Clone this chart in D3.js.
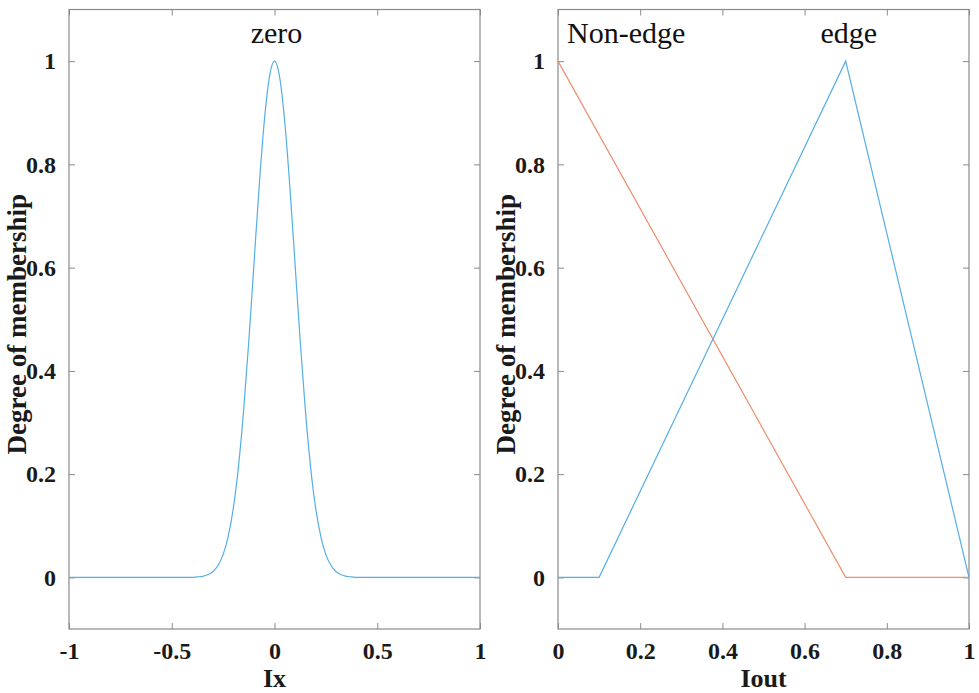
<!DOCTYPE html>
<html>
<head>
<meta charset="utf-8">
<script src="https://cdn.jsdelivr.net/npm/d3@7/dist/d3.min.js"></script>
<style>
  html, body { margin: 0; padding: 0; background: #fff; }
  svg { display: block; }
</style>
</head>
<body>
<svg id="chart" width="979" height="693"></svg>
<script>
// ---------- data ----------
const ixTicks = [-1, -0.5, 0, 0.5, 1];
const ioutTicks = [0, 0.2, 0.4, 0.6, 0.8, 1];
const yTicks = [0, 0.2, 0.4, 0.6, 0.8, 1];

// "zero" membership function
const zeroX = [-1, -0.4, -0.375, -0.35, -0.325, -0.3, -0.275, -0.25, -0.225, -0.2, -0.175, -0.15, -0.125, -0.1, -0.075, -0.05, -0.025, 0,
               0.025, 0.05, 0.075, 0.1, 0.125, 0.15, 0.175, 0.2, 0.225, 0.25, 0.275, 0.3, 0.325, 0.35, 0.375, 0.4, 1];
const zeroY = [0, 0, 0.001, 0.002, 0.005, 0.011, 0.023, 0.044, 0.080, 0.135, 0.216, 0.325, 0.458, 0.607, 0.755, 0.882, 0.969, 1,
               0.969, 0.882, 0.755, 0.607, 0.458, 0.325, 0.216, 0.135, 0.080, 0.044, 0.023, 0.011, 0.005, 0.002, 0.001, 0, 0];

// "Non-edge" and "edge" membership functions
const nonEdgeX = [0, 0.7, 1];
const nonEdgeY = [1, 0, 0];
const edgeX = [0, 0.1, 0.7, 1];
const edgeY = [0, 0, 1, 0];

// ---------- drawing ----------
const svg = d3.select("#chart");
const BLUE = "#55aee6";
const ORANGE = "#ee8e6c";
const AXIS = "#8a8a8a";
const serif = "'Liberation Serif', 'DejaVu Serif', serif";
const fmt = d => String(d);

const plotTop = 9.5, plotBottom = 629;
const y = d3.scaleLinear().domain([-0.1, 1.1]).range([plotBottom, plotTop]);

function panel(x0, x1, xDomain, xTicksArr, xLabel) {
  const x = d3.scaleLinear().domain(xDomain).range([x0, x1]);
  const g = svg.append("g");

  const tl = 6;
  const axB = g.append("g").attr("transform", `translate(0,${plotBottom})`)
    .call(d3.axisBottom(x).tickValues(xTicksArr).tickSizeInner(-tl).tickSizeOuter(0).tickFormat(fmt).tickPadding(13));
  const axT = g.append("g").attr("transform", `translate(0,${plotTop})`)
    .call(d3.axisTop(x).tickValues(xTicksArr).tickSizeInner(-tl).tickSizeOuter(0).tickFormat(""));
  const axL = g.append("g").attr("transform", `translate(${x0},0)`)
    .call(d3.axisLeft(y).tickValues(yTicks).tickSizeInner(-tl).tickSizeOuter(0).tickFormat(fmt).tickPadding(13));
  const axR = g.append("g").attr("transform", `translate(${x1},0)`)
    .call(d3.axisRight(y).tickValues(yTicks).tickSizeInner(-tl).tickSizeOuter(0).tickFormat(""));

  [axB, axT, axL, axR].forEach(a => {
    a.select(".domain").remove();
    a.selectAll(".tick line").attr("stroke", AXIS).attr("stroke-width", 1);
    a.selectAll(".tick text").attr("fill", "#1a1a1a")
      .style("font-family", serif).style("font-weight", "bold").style("font-size", "24px");
  });
  axB.selectAll(".tick text").attr("dy", "0.71em");

  g.append("rect").attr("x", x0).attr("y", plotTop).attr("width", x1 - x0).attr("height", plotBottom - plotTop)
    .attr("fill", "none").attr("stroke", AXIS).attr("stroke-width", 1.2);

  g.append("text").attr("x", (x0 + x1) / 2).attr("y", 687).attr("text-anchor", "middle")
    .style("font-family", serif).style("font-weight", "bold").style("font-size", "26px").attr("fill", "#1a1a1a")
    .text(xLabel);
  g.append("text").attr("transform", `translate(${x0 - 43},${(plotTop + plotBottom) / 2 + 5}) rotate(-90)`)
    .attr("text-anchor", "middle")
    .style("font-family", serif).style("font-weight", "bold").style("font-size", "27px").attr("fill", "#1a1a1a")
    .text("Degree of membership");
  return { g, x };
}

const line = (x, xs, ys, curve) => d3.line().x((d, i) => x(xs[i])).y((d, i) => y(ys[i])).curve(curve)(xs);

// left panel
const L = panel(69, 480, [-1, 1], ixTicks, "Ix");
L.g.append("path").attr("d", line(L.x, zeroX, zeroY, d3.curveMonotoneX))
  .attr("fill", "none").attr("stroke", BLUE).attr("stroke-width", 1.2);
L.g.append("text").attr("x", L.x(0) + 2).attr("y", 43).attr("text-anchor", "middle")
  .style("font-family", serif).style("font-size", "30px").attr("fill", "#111").text("zero");

// right panel
const R = panel(558, 969, [0, 1], ioutTicks, "Iout");
R.g.append("path").attr("d", line(R.x, nonEdgeX, nonEdgeY, d3.curveLinear))
  .attr("fill", "none").attr("stroke", ORANGE).attr("stroke-width", 1.2);
R.g.append("path").attr("d", line(R.x, edgeX, edgeY, d3.curveLinear))
  .attr("fill", "none").attr("stroke", BLUE).attr("stroke-width", 1.2);
R.g.append("text").attr("x", R.x(0) + 9).attr("y", 43).attr("text-anchor", "start")
  .style("font-family", serif).style("font-size", "30px").attr("fill", "#111").text("Non-edge");
R.g.append("text").attr("x", R.x(0.7) + 3).attr("y", 43).attr("text-anchor", "middle")
  .style("font-family", serif).style("font-size", "30px").attr("fill", "#111").text("edge");
</script>
</body>
</html>
